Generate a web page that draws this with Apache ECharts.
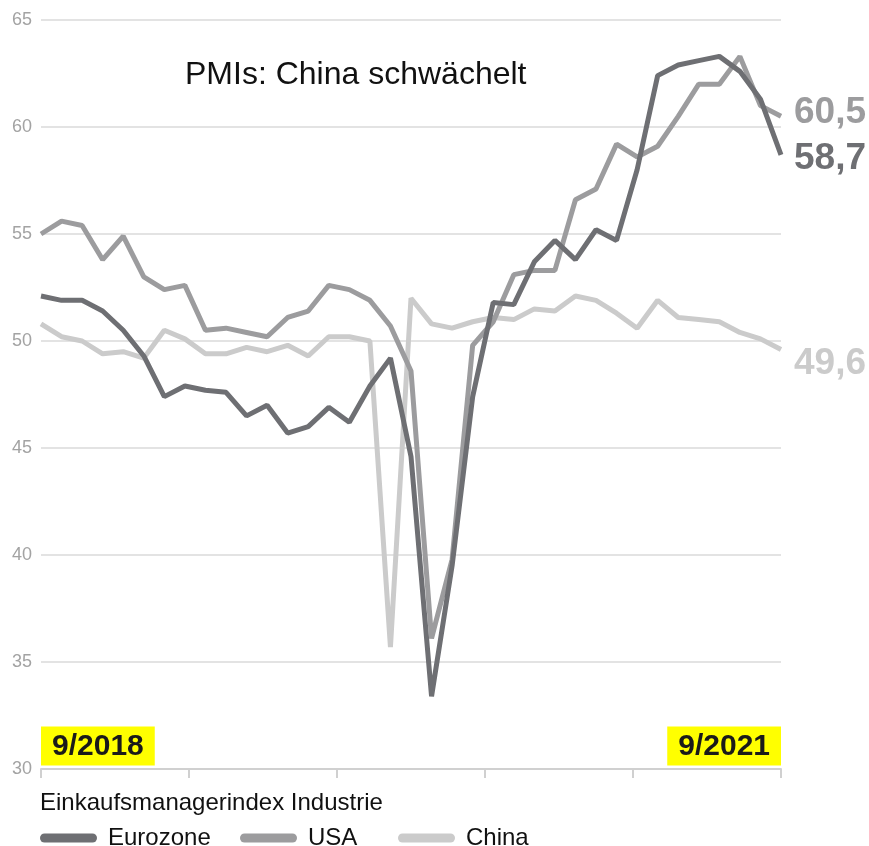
<!DOCTYPE html>
<html>
<head>
<meta charset="utf-8">
<script src="https://cdn.jsdelivr.net/npm/echarts@6/dist/echarts.min.js"></script>
<style>
html,body{margin:0;padding:0;background:#fff;}
#chart{width:869px;height:846px;}
</style>
</head>
<body>
<div id="chart"></div>
<script>
// Months 9/2018 .. 9/2021
const months = ['9/2018','10/2018','11/2018','12/2018','1/2019','2/2019','3/2019','4/2019','5/2019','6/2019','7/2019','8/2019','9/2019','10/2019','11/2019','12/2019','1/2020','2/2020','3/2020','4/2020','5/2020','6/2020','7/2020','8/2020','9/2020','10/2020','11/2020','12/2020','1/2021','2/2021','3/2021','4/2021','5/2021','6/2021','7/2021','8/2021','9/2021'];
const eurozone = [52.1,51.9,51.9,51.4,50.5,49.3,47.4,47.9,47.7,47.6,46.5,47.0,45.7,46.0,46.9,46.2,47.9,49.2,44.6,33.4,39.5,47.4,51.8,51.7,53.7,54.7,53.8,55.2,54.7,58.0,62.4,62.9,63.1,63.3,62.6,61.3,58.7];
const usa      = [55.0,55.6,55.4,53.8,54.9,53.0,52.4,52.6,50.5,50.6,50.4,50.2,51.1,51.4,52.6,52.4,51.9,50.7,48.6,36.1,39.8,49.8,50.9,53.1,53.3,53.3,56.6,57.1,59.2,58.6,59.1,60.5,62.0,62.0,63.3,61.0,60.5];
const china    = [50.8,50.2,50.0,49.4,49.5,49.2,50.5,50.1,49.4,49.4,49.7,49.5,49.8,49.3,50.2,50.2,50.0,35.7,52.0,50.8,50.6,50.9,51.1,51.0,51.5,51.4,52.1,51.9,51.3,50.6,51.9,51.1,51.0,50.9,50.4,50.1,49.6];
const seriesNames = ['Eurozone','USA','China'];
const yTicks = [30,35,40,45,50,55,60,65];
const xEndLabels = ['9/2018','9/2021'];

const colors = ['#6e6f73','#9c9c9e','#cbcbcb'];
const labelDy = [4, -4, 14];
const FONT = '"Liberation Sans", Arial, Helvetica, sans-serif';
const PILL = 'path://M4.5,0 H52.5 A4.5,4.5 0 0 1 52.5,9 H4.5 A4.5,4.5 0 0 1 4.5,0 Z';

function pairs(arr){ return arr.map((v,i)=>[i,v]); }
const seriesData = [eurozone, usa, china];

const chart = echarts.init(document.getElementById('chart'), null, {renderer:'canvas'});
const lastIdx = months.length - 1;

const series = [2,1,0].map(k => ({
  name: seriesNames[k],
  type: 'line',
  data: pairs(seriesData[k]),
  symbol: 'none',
  z: 3 - k,
  lineStyle: {width: 5, color: colors[k]},
  itemStyle: {color: colors[k]},
  emphasis: {disabled: true},
  endLabel: {
    show: true,
    formatter: p => p.value[1].toFixed(1).replace('.', ','),
    color: colors[k],
    fontFamily: FONT,
    fontSize: 37,
    fontWeight: 'bold',
    distance: 13,
    offset: [0, labelDy[k]]
  }
}));

function legendAt(name, left){
  return {
    data: [{name: name, icon: PILL}],
    left: left,
    top: 826,
    itemWidth: 57,
    itemHeight: 9,
    itemGap: 0,
    padding: 0,
    textStyle: {fontFamily: FONT, fontSize: 24, color: '#111', padding: [0,0,0,6]},
    selectedMode: false
  };
}

chart.setOption({
  animation: false,
  backgroundColor: '#fff',
  title: [
    {text: 'PMIs: China schwächelt', left: 185, top: 59, padding: 0,
     textStyle: {fontFamily: FONT, fontSize: 32, fontWeight: 'normal', color: '#111'}},
    {text: 'Einkaufsmanagerindex Industrie', left: 40, top: 791, padding: 0,
     textStyle: {fontFamily: FONT, fontSize: 24, fontWeight: 'normal', color: '#111'}}
  ],
  legend: [legendAt('Eurozone', 40), legendAt('USA', 240), legendAt('China', 398)],
  grid: {left: 41, right: 88, top: 20, bottom: 77, containLabel: false},
  xAxis: {
    type: 'value', min: 0, max: lastIdx, interval: 7.2,
    axisLine: {show: true, lineStyle: {color: '#d0d0d0', width: 2}},
    axisTick: {show: true, length: 9, inside: false, lineStyle: {color: '#d0d0d0', width: 2}},
    splitLine: {show: false},
    axisLabel: {
      show: true, inside: true, margin: 8,
      alignMinLabel: 'left', alignMaxLabel: 'right',
      formatter: v => v === 0 ? '{b|' + xEndLabels[0] + '}' : (Math.abs(v - lastIdx) < 1e-6 ? '{b|' + xEndLabels[1] + '}' : ''),
      rich: {
        b: {fontFamily: FONT, fontSize: 30, fontWeight: 'bold', color: '#1a1a1a',
            backgroundColor: '#ffff00', padding: [5, 11, 4, 11], lineHeight: 30}
      }
    }
  },
  yAxis: {
    type: 'value', min: yTicks[0], max: yTicks[yTicks.length-1], interval: 5,
    axisLine: {show: false}, axisTick: {show: false},
    axisLabel: {color: '#a3a3a3', fontFamily: FONT, fontSize: 18, margin: 9},
    splitLine: {show: true, lineStyle: {color: '#dadada', width: 1.5}}
  },
  series: series
});
</script>
</body>
</html>
